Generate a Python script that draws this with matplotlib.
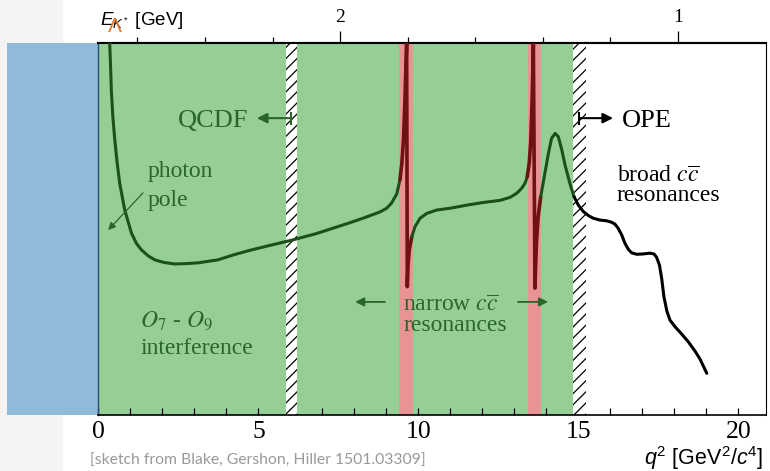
import matplotlib
matplotlib.use('Agg')
import matplotlib.pyplot as plt
from matplotlib.patches import Rectangle
from matplotlib.ticker import MultipleLocator, FixedLocator

plt.rcParams['mathtext.fontset'] = 'custom'
plt.rcParams['mathtext.rm'] = 'Liberation Sans'
plt.rcParams['mathtext.it'] = 'Liberation Sans:italic'
plt.rcParams['hatch.linewidth'] = 0.9

# sketch of the B -> K* mu mu spectrum
q2_curve = [0.35, 0.38, 0.40, 0.45, 0.51, 0.58, 0.66, 0.82, 1.03, 1.18, 1.34, 1.55,
            1.76, 2.05, 2.38, 2.75, 3.11, 3.73, 4.20, 4.70, 5.26, 6.04, 6.82, 7.86,
            8.30, 8.80, 9.01, 9.16, 9.32, 9.42, 9.48, 9.53, 9.57, 9.60, 9.63,
            9.65, 9.67, 9.71, 9.79, 9.89, 10.05, 10.26, 10.57, 11.00, 11.50, 12.00,
            12.55, 12.86, 13.07, 13.22, 13.33, 13.40, 13.46, 13.51, 13.55, 13.58, 13.59,
            13.64, 13.66, 13.69, 13.74, 13.82, 13.95, 14.06, 14.16, 14.27, 14.37, 14.48,
            14.58, 14.73, 14.86, 14.99, 15.15, 15.31, 15.46, 15.67, 15.88, 16.04, 16.14,
            16.24, 16.35, 16.45, 16.56, 16.66, 16.82, 17.03, 17.23, 17.36, 17.44, 17.53,
            17.60, 17.67, 17.76, 17.86, 18.02, 18.22, 18.43, 18.64, 18.80, 19.01]
y_curve = [1.00, 0.93, 0.874, 0.80, 0.739, 0.68, 0.624, 0.551, 0.489, 0.462, 0.444, 0.428,
           0.417, 0.410, 0.406, 0.407, 0.409, 0.417, 0.430, 0.442, 0.454, 0.470, 0.488, 0.517,
           0.530, 0.546, 0.556, 0.570, 0.594, 0.632, 0.677, 0.739, 0.829, 0.918, 1.00,
           0.345, 0.399, 0.444, 0.479, 0.506, 0.529, 0.542, 0.551, 0.556, 0.564, 0.571,
           0.577, 0.585, 0.596, 0.609, 0.623, 0.641, 0.677, 0.739, 0.847, 0.954, 1.00,
           0.341, 0.399, 0.470, 0.533, 0.587, 0.650, 0.703, 0.744, 0.757, 0.748, 0.712,
           0.672, 0.623, 0.587, 0.565, 0.547, 0.536, 0.529, 0.524, 0.522, 0.518, 0.513,
           0.502, 0.484, 0.462, 0.445, 0.436, 0.432, 0.433, 0.435, 0.433, 0.424, 0.403,
           0.367, 0.318, 0.280, 0.255, 0.237, 0.218, 0.197, 0.172, 0.150, 0.112]

narrow_bands = [(9.39, 9.83), (13.42, 13.83)]
hatch_bands = [(5.86, 6.20), (14.83, 15.23)]
green_region = (0.0, 14.83)
ope_start = 14.85
q2_max = 20.86

q2_ticks = [0, 5, 10, 15, 20]
E_major = [1.0, 2.0]
E_minor = [1.2, 1.4, 1.6, 1.8, 2.2, 2.4, 2.6]
mB, mKst = 5.2797, 0.8917

green = '#96cf96'
blue = '#8fbad9'
pink = '#e99494'
darkred = '#6e1212'
curve_green = '#1c4f1c'
text_green = '#2a662a'
serif = 'Liberation Serif'


def q2_to_E(q):
    return (mB**2 + mKst**2 - q) / (2 * mB)


def E_to_q2(E):
    return mB**2 + mKst**2 - 2 * mB * E


def seg_color(q):
    for lo, hi in narrow_bands:
        if lo <= q <= hi:
            return darkred
    if q > ope_start:
        return 'black'
    return curve_green


fig = plt.figure(figsize=(7.7, 4.71), dpi=100)
fig.patches.append(Rectangle((0, 0), 62 / 770, 1, transform=fig.transFigure,
                             color='#f4f4f4', zorder=-10))
ax = fig.add_axes([98.5 / 770, 1 - 415 / 471, (766 - 98.5) / 770, (415 - 43) / 471])
ax.set_xlim(0, q2_max)
ax.set_ylim(0, 1)

# regions
ax.add_patch(Rectangle((-0.137, 0), 0.137, 1, transform=ax.transAxes,
                       clip_on=False, color=blue, lw=0))
ax.axvspan(*green_region, color=green, lw=0, zorder=1)
for lo, hi in narrow_bands:
    ax.axvspan(lo, hi, color=pink, lw=0, zorder=2)
for lo, hi in hatch_bands:
    ax.axvspan(lo, hi, facecolor='white', edgecolor='black', hatch='///', lw=0, zorder=2)

# curve, coloured piecewise
runs = []
for i in range(len(q2_curve) - 1):
    c = seg_color(0.5 * (q2_curve[i] + q2_curve[i + 1]))
    if runs and runs[-1][0] == c:
        runs[-1][1].append(i + 1)
    else:
        runs.append((c, [i, i + 1]))
for c, idx in runs:
    lw = 2.6 if c == darkred else 2.2
    ax.plot([q2_curve[j] for j in idx], [y_curve[j] for j in idx], color=c, lw=lw,
            solid_capstyle='round', solid_joinstyle='round', zorder=4)

# labels in the plot
ax.text(2.48, 0.774, 'QCDF', family=serif, fontsize=19, color=text_green, zorder=5)
ax.annotate('', xy=(4.95, 0.798), xytext=(6.02, 0.798),
            arrowprops=dict(arrowstyle='-|>', color=text_green, lw=1.5,
                            mutation_scale=15, shrinkA=0, shrinkB=0), zorder=5)
ax.plot([6.02, 6.02], [0.783, 0.813], color=text_green, lw=1.5, zorder=5)

ax.text(16.36, 0.774, 'OPE', family=serif, fontsize=19, color='black', zorder=5)
ax.annotate('', xy=(16.08, 0.798), xytext=(15.02, 0.798),
            arrowprops=dict(arrowstyle='-|>', color='black', lw=1.5,
                            mutation_scale=15, shrinkA=0, shrinkB=0), zorder=5)
ax.plot([15.02, 15.02], [0.783, 0.813], color='black', lw=1.5, zorder=5)

ax.text(1.55, 0.640, 'photon', family=serif, fontsize=17, color=text_green, zorder=5)
ax.text(1.55, 0.562, 'pole', family=serif, fontsize=17, color=text_green, zorder=5)
ax.annotate('', xy=(0.30, 0.497), xytext=(1.39, 0.597),
            arrowprops=dict(arrowstyle='-|>', color=text_green, lw=0.9,
                            mutation_scale=11, shrinkA=0, shrinkB=0), zorder=5)

ax.text(16.20, 0.626, r'broad $c\overline{c}$', family=serif, fontsize=17,
        math_fontfamily='stix', color='black', zorder=5)
ax.text(16.20, 0.575, 'resonances', family=serif, fontsize=17, color='black', zorder=5)

ax.text(1.30, 0.239, r'$O_7$ - $O_9$', family=serif, fontsize=17,
        math_fontfamily='stix', color=text_green, zorder=5)
ax.text(1.30, 0.164, 'interference', family=serif, fontsize=17, color=text_green, zorder=5)

ax.text(9.52, 0.280, r'narrow $c\overline{c}$', family=serif, fontsize=17,
        math_fontfamily='stix', color=text_green, zorder=5)
ax.text(9.52, 0.226, 'resonances', family=serif, fontsize=17, color=text_green, zorder=5)
ax.annotate('', xy=(8.02, 0.304), xytext=(8.95, 0.304),
            arrowprops=dict(arrowstyle='-|>', color=text_green, lw=1.3,
                            mutation_scale=13, shrinkA=0, shrinkB=0), zorder=5)
ax.annotate('', xy=(14.05, 0.304), xytext=(13.11, 0.304),
            arrowprops=dict(arrowstyle='-|>', color=text_green, lw=1.3,
                            mutation_scale=13, shrinkA=0, shrinkB=0), zorder=5)

# axes styling
ax.set_yticks([])
ax.set_xticks(q2_ticks)
ax.xaxis.set_minor_locator(MultipleLocator(1))
ax.tick_params(axis='x', which='both', direction='in', length=5, width=0.9,
               labelsize=18.5, pad=4)
for lab in ax.get_xticklabels():
    lab.set_family(serif)
for s in ['top', 'bottom', 'right']:
    ax.spines[s].set_color('black')
ax.spines['top'].set_linewidth(1.5)
ax.spines['bottom'].set_linewidth(1.2)
ax.spines['right'].set_linewidth(0.8)
ax.spines['left'].set_color('#2a4a7a')
ax.spines['left'].set_linewidth(1.0)

secax = ax.secondary_xaxis('top', functions=(q2_to_E, E_to_q2))
secax.set_xticks(E_major, labels=['1', '2'])
secax.xaxis.set_minor_locator(FixedLocator(E_minor))
secax.tick_params(axis='x', which='major', direction='out', length=8.5, width=0.9,
                  labelsize=14, pad=4)
secax.tick_params(axis='x', which='minor', direction='out', length=4, width=0.9)
secax.spines['top'].set_linewidth(1.5)
for lab in secax.get_xticklabels():
    lab.set_family(serif)

# outer labels
fig.text(100 / 770, 1 - 25 / 471, r'$E_{K^*}$ [GeV]', family='Liberation Sans',
         fontsize=13.5, math_fontfamily='custom', va='baseline')
fig.text(115 / 770, 1 - 27 / 471, 'Λ', family='Liberation Sans', fontsize=15,
         color='#e8762a', ha='center', va='center')
fig.text(763 / 770, 1 - 465.5 / 471, r'$q^2$ [GeV$^2$/$c^4$]', family='Liberation Sans',
         fontsize=15.5, math_fontfamily='custom', ha='right', va='baseline')
fig.text(90 / 770, 1 - 465 / 471, '[sketch from Blake, Gershon, Hiller 1501.03309]',
         family='Lato', fontsize=11.3, color='#999999', va='baseline')

fig.savefig('out.png', dpi=100)
